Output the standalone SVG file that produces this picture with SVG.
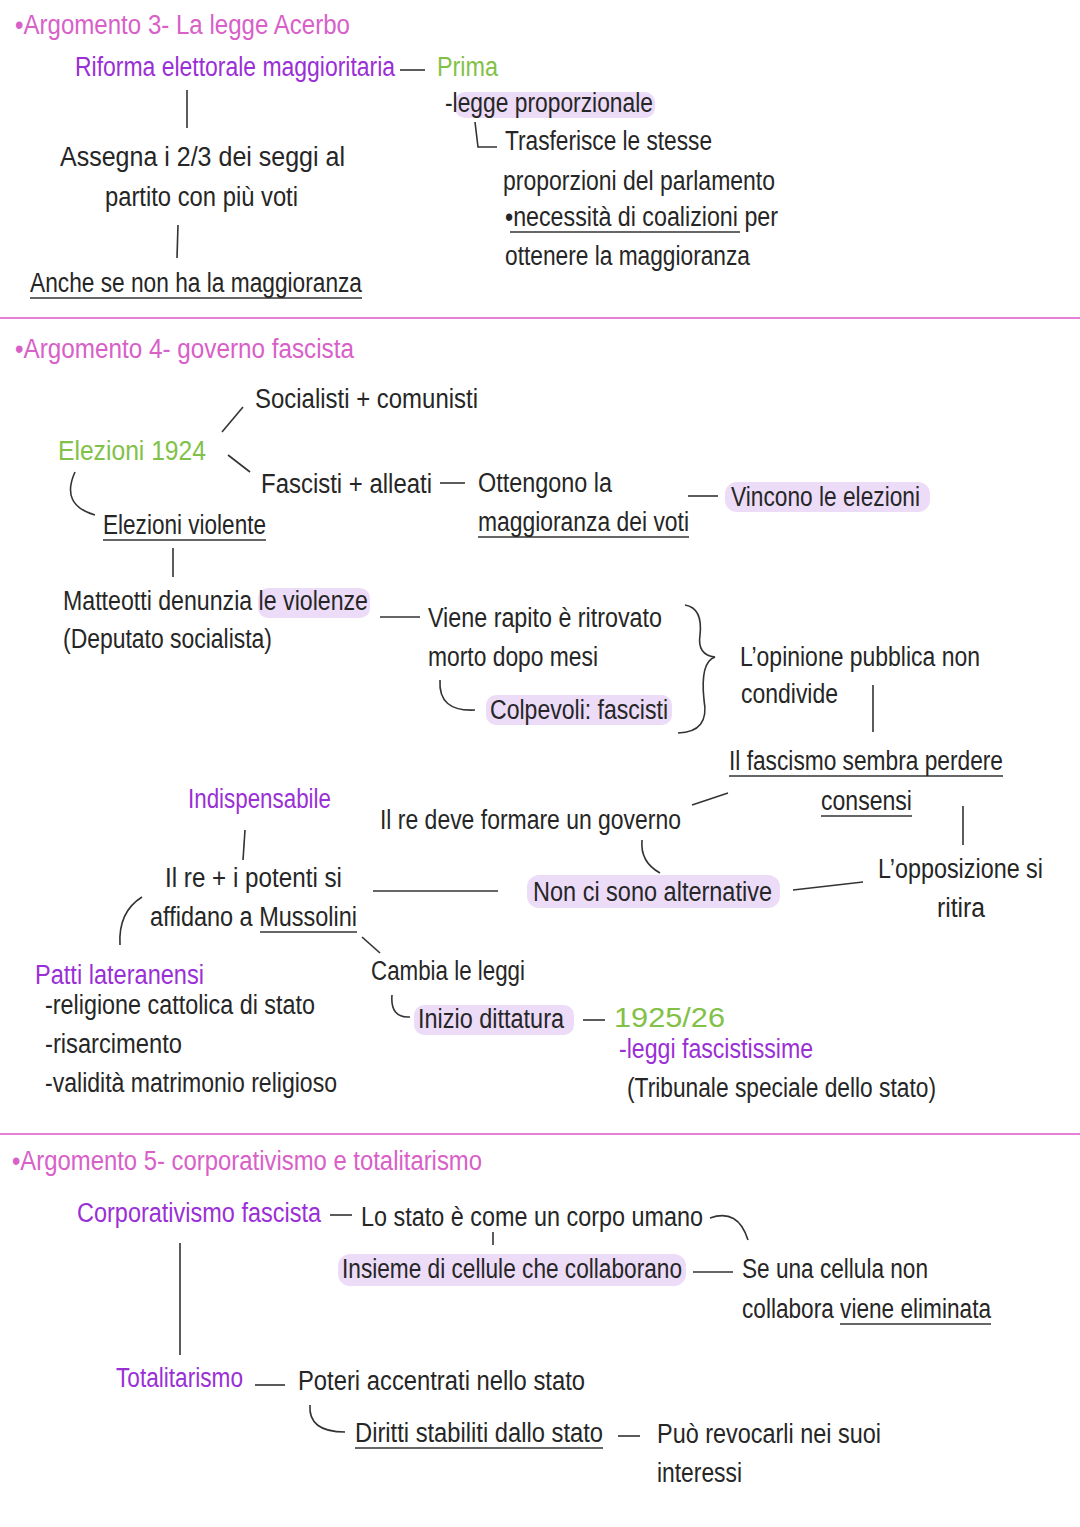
<svg xmlns="http://www.w3.org/2000/svg" width="1080" height="1527" viewBox="0 0 1080 1527">
<style>
text{font-family:"Liberation Sans","DejaVu Sans",sans-serif;font-size:27px;fill:#262626}
.pk{fill:#d860c8}.pu{fill:#9a2fd6}.gr{fill:#82c148}
.ln{stroke:#333;stroke-width:1.6;fill:none}
.ul{stroke:#333;stroke-width:1.5}
.sep{stroke:#e77fd6;stroke-width:2}
.hl{fill:#ecdcf8}
</style>
<rect width="1080" height="1527" fill="#fff"/>
<g id="highlights">
<rect class="hl" x="455" y="92" width="200" height="26" rx="10"/>
<rect class="hl" x="725" y="482" width="205" height="30" rx="12"/>
<rect class="hl" x="258" y="588" width="112" height="30" rx="10"/>
<rect class="hl" x="486" y="695" width="186" height="30" rx="10"/>
<rect class="hl" x="527" y="875" width="253" height="33" rx="12"/>
<rect class="hl" x="414" y="1005" width="160" height="30" rx="10"/>
<rect class="hl" x="338" y="1254" width="348" height="32" rx="12"/>
</g>
<g id="connectors">
<line class="sep" x1="0" y1="318" x2="1080" y2="318"/>
<line class="sep" x1="0" y1="1134" x2="1080" y2="1134"/>
<line class="ln" x1="400" y1="70" x2="425" y2="70"/>
<path class="ln" d="M475,122 L478,147 L497,147"/>
<line class="ln" x1="187" y1="90" x2="187" y2="128"/>
<line class="ln" x1="178" y1="225" x2="177" y2="258"/>
<line class="ln" x1="222" y1="432" x2="243" y2="407"/>
<line class="ln" x1="228" y1="455" x2="250" y2="472"/>
<line class="ln" x1="440" y1="483" x2="465" y2="483"/>
<line class="ln" x1="688" y1="496" x2="718" y2="496"/>
<path class="ln" d="M75,472 Q60,505 95,515"/>
<line class="ln" x1="173" y1="548" x2="173" y2="577"/>
<line class="ln" x1="380" y1="617" x2="420" y2="617"/>
<path class="ln" d="M440,680 Q438,712 475,710"/>
<path class="ln" d="M685,605 Q703,608 700,635 Q697,655 715,657 Q700,662 704,700 Q710,732 678,733"/>
<line class="ln" x1="873" y1="685" x2="873" y2="732"/>
<line class="ln" x1="692" y1="805" x2="728" y2="793"/>
<line class="ln" x1="963" y1="806" x2="963" y2="845"/>
<line class="ln" x1="793" y1="890" x2="863" y2="882"/>
<path class="ln" d="M642,840 Q640,862 660,873"/>
<line class="ln" x1="373" y1="891" x2="498" y2="891"/>
<line class="ln" x1="245" y1="830" x2="243" y2="860"/>
<path class="ln" d="M142,897 Q118,912 120,945"/>
<line class="ln" x1="362" y1="937" x2="380" y2="953"/>
<path class="ln" d="M392,995 Q390,1018 410,1017"/>
<line class="ln" x1="583" y1="1020" x2="605" y2="1020"/>
<line class="ln" x1="330" y1="1215" x2="352" y2="1215"/>
<path class="ln" d="M710,1218 Q738,1208 748,1240"/>
<line class="ln" x1="493" y1="1232" x2="493" y2="1245"/>
<line class="ln" x1="693" y1="1272" x2="733" y2="1272"/>
<line class="ln" x1="180" y1="1243" x2="180" y2="1355"/>
<line class="ln" x1="255" y1="1385" x2="285" y2="1385"/>
<path class="ln" d="M310,1405 Q308,1432 345,1432"/>
<line class="ln" x1="618" y1="1436" x2="640" y2="1436"/>
</g>
<g id="underlines">
<line class="ul" x1="510" y1="232" x2="740" y2="232"/>
<line class="ul" x1="30" y1="298" x2="362" y2="298"/>
<line class="ul" x1="478" y1="537" x2="689" y2="537"/>
<line class="ul" x1="103" y1="540" x2="266" y2="540"/>
<line class="ul" x1="729" y1="776" x2="1003" y2="776"/>
<line class="ul" x1="821" y1="816" x2="912" y2="816"/>
<line class="ul" x1="260" y1="932" x2="357" y2="932"/>
<line class="ul" x1="840" y1="1324" x2="991" y2="1324"/>
<line class="ul" x1="355" y1="1448" x2="603" y2="1448"/>
</g>
<g id="sec3">
<text class="pk" x="15" y="34" textLength="335" lengthAdjust="spacingAndGlyphs">•Argomento 3- La legge Acerbo</text>
<text class="pu" x="75" y="76" textLength="320" lengthAdjust="spacingAndGlyphs">Riforma elettorale maggioritaria</text>
<text class="gr" x="437" y="76" textLength="61" lengthAdjust="spacingAndGlyphs">Prima</text>
<text x="445" y="112" font-size="26" textLength="208" lengthAdjust="spacingAndGlyphs">-legge proporzionale</text>
<text x="505" y="150" textLength="207" lengthAdjust="spacingAndGlyphs">Trasferisce le stesse</text>
<text x="503" y="190" textLength="272" lengthAdjust="spacingAndGlyphs">proporzioni del parlamento</text>
<text x="505" y="226" textLength="273" lengthAdjust="spacingAndGlyphs">•necessità di coalizioni per</text>
<text x="505" y="265" textLength="245" lengthAdjust="spacingAndGlyphs">ottenere la maggioranza</text>
<text x="60" y="166" textLength="285" lengthAdjust="spacingAndGlyphs">Assegna i 2/3 dei seggi al</text>
<text x="105" y="206" textLength="193" lengthAdjust="spacingAndGlyphs">partito con più voti</text>
<text x="30" y="292" textLength="332" lengthAdjust="spacingAndGlyphs">Anche se non ha la maggioranza</text>
</g>
<g id="sec4">
<text class="pk" x="15" y="358" textLength="339" lengthAdjust="spacingAndGlyphs">•Argomento 4- governo fascista</text>
<text x="255" y="408" textLength="223" lengthAdjust="spacingAndGlyphs">Socialisti + comunisti</text>
<text class="gr" x="58" y="460" textLength="148" lengthAdjust="spacingAndGlyphs">Elezioni 1924</text>
<text x="261" y="493" textLength="171" lengthAdjust="spacingAndGlyphs">Fascisti + alleati</text>
<text x="478" y="492" textLength="134" lengthAdjust="spacingAndGlyphs">Ottengono la</text>
<text x="478" y="531" textLength="211" lengthAdjust="spacingAndGlyphs">maggioranza dei voti</text>
<text x="731" y="506" textLength="189" lengthAdjust="spacingAndGlyphs">Vincono le elezioni</text>
<text x="103" y="534" textLength="163" lengthAdjust="spacingAndGlyphs">Elezioni violente</text>
<text x="63" y="610" textLength="305" lengthAdjust="spacingAndGlyphs">Matteotti denunzia le violenze</text>
<text x="63" y="648" textLength="209" lengthAdjust="spacingAndGlyphs">(Deputato socialista)</text>
<text x="428" y="627" textLength="234" lengthAdjust="spacingAndGlyphs">Viene rapito è ritrovato</text>
<text x="428" y="666" textLength="170" lengthAdjust="spacingAndGlyphs">morto dopo mesi</text>
<text x="490" y="719" textLength="178" lengthAdjust="spacingAndGlyphs">Colpevoli: fascisti</text>
<text x="740" y="666" textLength="240" lengthAdjust="spacingAndGlyphs">L’opinione pubblica non</text>
<text x="741" y="703" textLength="97" lengthAdjust="spacingAndGlyphs">condivide</text>
<text x="729" y="770" textLength="274" lengthAdjust="spacingAndGlyphs">Il fascismo sembra perdere</text>
<text x="821" y="810" textLength="91" lengthAdjust="spacingAndGlyphs">consensi</text>
<text x="878" y="878" textLength="165" lengthAdjust="spacingAndGlyphs">L’opposizione si</text>
<text x="937" y="917" textLength="48" lengthAdjust="spacingAndGlyphs">ritira</text>
<text x="380" y="829" textLength="301" lengthAdjust="spacingAndGlyphs">Il re deve formare un governo</text>
<text x="533" y="901" textLength="239" lengthAdjust="spacingAndGlyphs">Non ci sono alternative</text>
<text class="pu" x="188" y="808" textLength="143" lengthAdjust="spacingAndGlyphs">Indispensabile</text>
<text x="165" y="887" textLength="177" lengthAdjust="spacingAndGlyphs">Il re + i potenti si</text>
<text x="150" y="926" textLength="207" lengthAdjust="spacingAndGlyphs">affidano a Mussolini</text>
<text class="pu" x="35" y="984" textLength="169" lengthAdjust="spacingAndGlyphs">Patti lateranensi</text>
<text x="45" y="1014" textLength="270" lengthAdjust="spacingAndGlyphs">-religione cattolica di stato</text>
<text x="45" y="1053" textLength="137" lengthAdjust="spacingAndGlyphs">-risarcimento</text>
<text x="45" y="1092" textLength="292" lengthAdjust="spacingAndGlyphs">-validità matrimonio religioso</text>
<text x="371" y="980" textLength="154" lengthAdjust="spacingAndGlyphs">Cambia le leggi</text>
<text x="418" y="1028" textLength="146" lengthAdjust="spacingAndGlyphs">Inizio dittatura</text>
<text class="gr" x="614" y="1027" font-size="31" textLength="111" lengthAdjust="spacingAndGlyphs">1925/26</text>
<text class="pu" x="619" y="1058" textLength="194" lengthAdjust="spacingAndGlyphs">-leggi fascistissime</text>
<text x="627" y="1097" textLength="309" lengthAdjust="spacingAndGlyphs">(Tribunale speciale dello stato)</text>
</g>
<g id="sec5">
<text class="pk" x="12" y="1170" textLength="470" lengthAdjust="spacingAndGlyphs">•Argomento 5- corporativismo e totalitarismo</text>
<text class="pu" x="77" y="1222" textLength="244" lengthAdjust="spacingAndGlyphs">Corporativismo fascista</text>
<text x="361" y="1226" textLength="342" lengthAdjust="spacingAndGlyphs">Lo stato è come un corpo umano</text>
<text x="342" y="1278" textLength="340" lengthAdjust="spacingAndGlyphs">Insieme di cellule che collaborano</text>
<text x="742" y="1278" textLength="186" lengthAdjust="spacingAndGlyphs">Se una cellula non</text>
<text x="742" y="1318" textLength="249" lengthAdjust="spacingAndGlyphs">collabora viene eliminata</text>
<text class="pu" x="116" y="1387" textLength="127" lengthAdjust="spacingAndGlyphs">Totalitarismo</text>
<text x="298" y="1390" textLength="287" lengthAdjust="spacingAndGlyphs">Poteri accentrati nello stato</text>
<text x="355" y="1442" textLength="248" lengthAdjust="spacingAndGlyphs">Diritti stabiliti dallo stato</text>
<text x="657" y="1443" textLength="224" lengthAdjust="spacingAndGlyphs">Può revocarli nei suoi</text>
<text x="657" y="1482" textLength="85" lengthAdjust="spacingAndGlyphs">interessi</text>
</g>
</svg>
